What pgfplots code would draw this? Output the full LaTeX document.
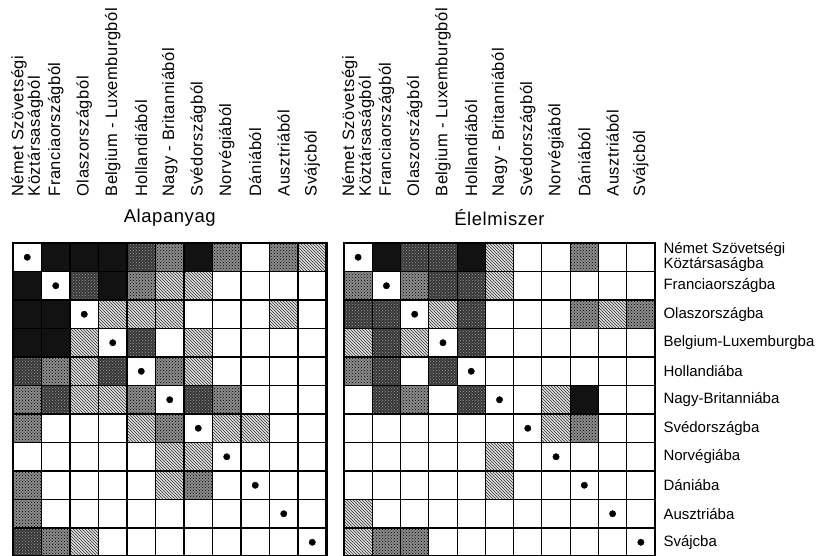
\documentclass[border=0pt]{standalone}
\usepackage{fontspec}
\setmainfont{Liberation Sans}
\newfontfamily\labfont[LetterSpace=3]{Liberation Sans}
\newfontfamily\rowfont{Liberation Sans}
\usepackage{pgfplots}
\pgfplotsset{compat=1.18}
\usepackage{pgfplotstable}
\usetikzlibrary{patterns}

\pgfdeclareplotmark{cellhatch}{%
  \pgfpathrectangle{\pgfqpoint{-\pgfplotmarksize}{-\pgfplotmarksize}}{\pgfqpoint{2\pgfplotmarksize}{2\pgfplotmarksize}}%
  \pgfsetfillcolor{black!12}\pgfusepathqfill
  \pgfpathrectangle{\pgfqpoint{-\pgfplotmarksize}{-\pgfplotmarksize}}{\pgfqpoint{2\pgfplotmarksize}{2\pgfplotmarksize}}%
  \pgfsetfillpattern{north west lines}{black!80}\pgfusepathqfill}
\pgfdeclareplotmark{cellmed}{%
  \pgfpathrectangle{\pgfqpoint{-\pgfplotmarksize}{-\pgfplotmarksize}}{\pgfqpoint{2\pgfplotmarksize}{2\pgfplotmarksize}}%
  \pgfsetfillcolor{black!45}\pgfusepathqfill
  \pgfpathrectangle{\pgfqpoint{-\pgfplotmarksize}{-\pgfplotmarksize}}{\pgfqpoint{2\pgfplotmarksize}{2\pgfplotmarksize}}%
  \pgfsetfillpattern{crosshatch dots}{black}\pgfusepathqfill}
\pgfdeclareplotmark{celldark}{%
  \pgfpathrectangle{\pgfqpoint{-\pgfplotmarksize}{-\pgfplotmarksize}}{\pgfqpoint{2\pgfplotmarksize}{2\pgfplotmarksize}}%
  \pgfsetfillcolor{black!78}\pgfusepathqfill
  \pgfpathrectangle{\pgfqpoint{-\pgfplotmarksize}{-\pgfplotmarksize}}{\pgfqpoint{2\pgfplotmarksize}{2\pgfplotmarksize}}%
  \pgfsetfillpattern{crosshatch dots}{black!40}\pgfusepathqfill}
\pgfdeclareplotmark{cellblack}{%
  \pgfpathrectangle{\pgfqpoint{-\pgfplotmarksize}{-\pgfplotmarksize}}{\pgfqpoint{2\pgfplotmarksize}{2\pgfplotmarksize}}%
  \pgfsetfillcolor{black!93}\pgfusepathqfill}

% c = exporting country (column), r = importing country (row, 0 = top)
% a = light hatch, b = medium, c = dark, d = black, o = diagonal dot
\pgfplotstableread{
c r lev
0 0 o
1 0 d
2 0 d
3 0 d
4 0 c
5 0 b
6 0 d
7 0 b
9 0 b
10 0 a
0 1 d
1 1 o
2 1 c
3 1 d
4 1 b
5 1 a
6 1 a
0 2 d
1 2 d
2 2 o
3 2 a
4 2 a
5 2 a
9 2 a
0 3 d
1 3 d
2 3 a
3 3 o
4 3 c
6 3 a
0 4 c
1 4 b
2 4 a
3 4 c
4 4 o
5 4 b
6 4 a
0 5 b
1 5 c
2 5 a
3 5 a
4 5 b
5 5 o
6 5 c
7 5 b
0 6 b
4 6 a
5 6 b
6 6 o
7 6 a
8 6 a
5 7 a
6 7 a
7 7 o
0 8 b
5 8 a
6 8 b
8 8 o
0 9 b
9 9 o
0 10 c
1 10 b
2 10 a
10 10 o
}\tabA

\pgfplotstableread{
c r lev
0 0 o
1 0 d
2 0 c
3 0 c
4 0 d
5 0 a
8 0 b
0 1 b
1 1 o
2 1 b
3 1 c
4 1 c
5 1 a
0 2 c
1 2 c
2 2 o
3 2 a
4 2 c
8 2 b
9 2 a
10 2 b
0 3 a
1 3 c
2 3 a
3 3 o
4 3 c
0 4 b
1 4 c
3 4 c
4 4 o
1 5 c
2 5 b
4 5 c
5 5 o
7 5 a
8 5 d
6 6 o
7 6 a
8 6 b
5 7 a
7 7 o
5 8 a
8 8 o
0 9 a
9 9 o
0 10 a
1 10 b
2 10 b
10 10 o
}\tabB

\pgfplotsset{
  cellgrid/.style={
    scale only axis, height=313.5pt,
    clip mode=individual,
    xmin=-0.5, xmax=10.5, ymin=-0.5, ymax=10.5,
    xtick={0,1,2,3,4,5,6,7,8,9,10},
    ytick={0,1,2,3,4,5,6,7,8,9,10},
    minor xtick={0.5,1.5,2.5,3.5,4.5,5.5,6.5,7.5,8.5,9.5},
    minor ytick={0.5,1.5,2.5,3.5,4.5,5.5,6.5,7.5,8.5,9.5},
    xminorgrids=true, yminorgrids=true,
    minor grid style={black, line width=1.1pt},
    major tick length=0pt, minor tick length=0pt,
    axis on top,
    axis line style={black, line width=2.4pt},
    xticklabel pos=upper,
    xticklabel style={rotate=90, anchor=west, align=left,
      font=\labfont\fontsize{16.5}{14.5}\selectfont},
    xticklabel shift=43pt,
    xticklabels={{Német Szövetségi\\Köztársaságból}, Franciaországból, Olaszországból,
      Belgium - Luxemburgból, Hollandiából, Nagy - Britanniából, Svédországból,
      Norvégiából, Dániából, Ausztriából, Svájcból},
  },
  cellplot/.style={scatter, only marks, scatter src=explicit symbolic,
    scatter/classes={
      a={mark=cellhatch, mark size=14.25pt},
      b={mark=cellmed, mark size=14.25pt},
      c={mark=celldark, mark size=14.25pt},
      d={mark=cellblack, mark size=14.25pt},
      o={mark=*, mark size=3.2pt, black}}},
}

\begin{document}
\begin{tikzpicture}
\path[use as bounding box] (0,0) rectangle (821pt,555pt);

\begin{axis}[cellgrid, at={(13pt,-1.5pt)}, anchor=south west, width=313.5pt,
  yticklabels={}]
  \addplot[cellplot] table[x=c, y expr=10-\thisrow{r}, meta=lev]{\tabA};
  \node[font=\labfont\fontsize{18.5}{20}\selectfont] at (axis description cs:0.5,1) [yshift=25pt] {Alapanyag};
\end{axis}

\begin{axis}[cellgrid, at={(344pt,-1.5pt)}, anchor=south west, width=311pt,
  yticklabel pos=right,
  yticklabel style={anchor=west, align=left, font=\rowfont\fontsize{15}{14}\selectfont},
  yticklabel shift=5pt,
  yticklabels={Svájcba, Ausztriába, Dániába, Norvégiába, Svédországba,
    Nagy-Britanniába, Hollandiába, Belgium-Luxemburgba, Olaszországba,
    Franciaországba, {Német Szövetségi\\Köztársaságba}}]
  \addplot[cellplot] table[x=c, y expr=10-\thisrow{r}, meta=lev]{\tabB};
  \node[font=\labfont\fontsize{18.5}{20}\selectfont] at (axis description cs:0.5,1) [yshift=25pt] {Élelmiszer};
\end{axis}
\end{tikzpicture}
\end{document}
